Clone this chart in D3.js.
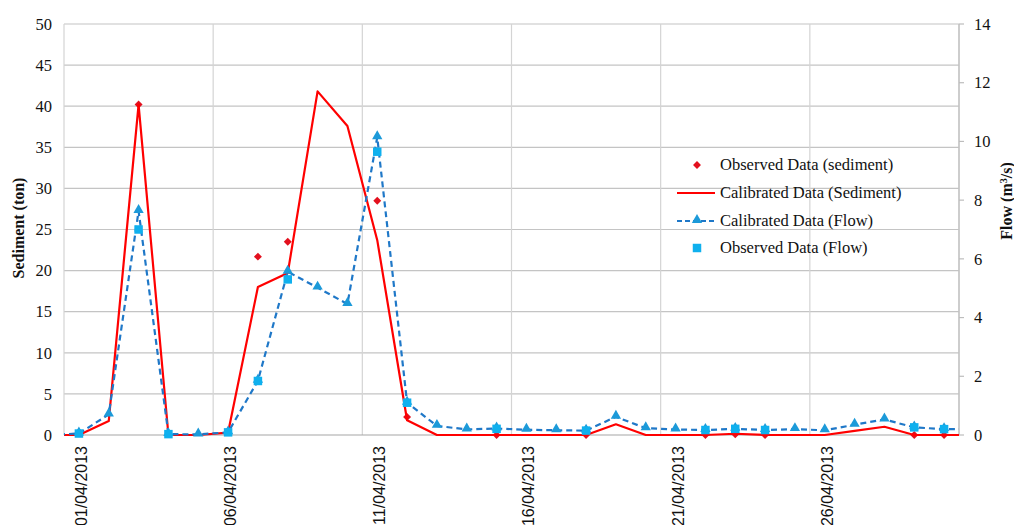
<!DOCTYPE html>
<html>
<head>
<meta charset="utf-8">
<script src="https://cdn.jsdelivr.net/npm/d3@7"></script>
<style>
  html, body { margin: 0; padding: 0; background: #fff; }
  svg { display: block; }
</style>
</head>
<body>
<svg id="chart" width="1014" height="525"></svg>
<script>
// Daily dates, 31/03/2013 .. 01/05/2013 (the two outer days run past the plot edges)
const dates = ["31/03/2013",
  "01/04/2013","02/04/2013","03/04/2013","04/04/2013","05/04/2013","06/04/2013","07/04/2013","08/04/2013","09/04/2013","10/04/2013",
  "11/04/2013","12/04/2013","13/04/2013","14/04/2013","15/04/2013","16/04/2013","17/04/2013","18/04/2013","19/04/2013","20/04/2013",
  "21/04/2013","22/04/2013","23/04/2013","24/04/2013","25/04/2013","26/04/2013","27/04/2013","28/04/2013","29/04/2013","30/04/2013",
  "01/05/2013"];

// Calibrated sediment (ton), one value per date
const calSediment = [0,
  0, 1.7, 40.2, 0, 0, 0.3, 18.0, 19.7, 41.8, 37.6,
  23.7, 1.8, 0, 0, 0, 0, 0, 0, 1.3, 0,
  0, 0, 0.15, 0, 0, 0, 0.5, 1.0, 0, 0,
  0];

// Calibrated flow (m3/s), one value per date
const calFlow = [0,
  0.05, 0.70, 7.63, 0.03, 0.02, 0.09, 1.85, 5.56, 5.02, 4.46,
  10.14, 1.10, 0.31, 0.19, 0.22, 0.18, 0.16, 0.15, 0.62, 0.23,
  0.19, 0.17, 0.21, 0.17, 0.20, 0.16, 0.35, 0.53, 0.26, 0.20,
  0.20];

// Observed sediment samples (ton)
const obsSedDates = ["03/04/2013","07/04/2013","08/04/2013","11/04/2013","12/04/2013","15/04/2013","18/04/2013",
  "22/04/2013","23/04/2013","24/04/2013","29/04/2013","30/04/2013"];
const obsSediment = [40.2, 21.7, 23.5, 28.5, 2.2, 0, 0, 0, 0.1, 0, 0, 0];

// Observed flow samples (m3/s)
const obsFlowDates = ["01/04/2013","03/04/2013","04/04/2013","06/04/2013","07/04/2013","08/04/2013","11/04/2013","12/04/2013",
  "15/04/2013","18/04/2013","22/04/2013","23/04/2013","24/04/2013","29/04/2013","30/04/2013"];
const obsFlow = [0.05, 7.0, 0.03, 0.09, 1.84, 5.30, 9.65, 1.10, 0.21, 0.15, 0.17, 0.21, 0.17, 0.26, 0.20];

// Axis ticks
const sedTicks = [0, 5, 10, 15, 20, 25, 30, 35, 40, 45, 50];
const flowTicks = [0, 2, 4, 6, 8, 10, 12, 14];
const dateTickLabels = ["01/04/2013","06/04/2013","11/04/2013","16/04/2013","21/04/2013","26/04/2013"];

const legendLabels = ["Observed Data (sediment)", "Calibrated Data (Sediment)", "Calibrated Data (Flow)", "Observed Data (Flow)"];

// ---- layout ----
const plotL = 64, plotR = 959, plotT = 24, plotB = 435;
const svg = d3.select("#chart");
const serif = "'Liberation Serif', 'Times New Roman', serif";
const sans = "'Liberation Sans', Arial, sans-serif";

const RED = "#ff0000", DIAMOND = "#e3101e", LINEBLUE = "#1f78c8", TRI = "#1c9ad9", SQUARE = "#0fb0ee";

// Date index 0 = 31/03; the axis covers 1..30, each day centred in its slot
const dayIndex = d => dates.indexOf(d);
const x = d3.scaleLinear().domain([0.5, 30.5]).range([plotL, plotR]);
const ySed = d3.scaleLinear().domain([0, 50]).range([plotB, plotT]);
const yFlow = d3.scaleLinear().domain([0, 14]).range([plotB, plotT]);

svg.append("defs").append("clipPath").attr("id", "plotClip")
  .append("rect").attr("x", plotL).attr("y", plotT - 10).attr("width", plotR - plotL).attr("height", plotB - plotT + 20);

// horizontal gridlines (sediment axis)
svg.append("g").selectAll("line").data(sedTicks.filter(t => t > 0)).join("line")
  .attr("x1", plotL).attr("x2", plotR)
  .attr("y1", d => ySed(d)).attr("y2", d => ySed(d))
  .attr("stroke", "#c4c4c4").attr("stroke-width", 1.2);

// vertical gridlines every 5 days
svg.append("g").selectAll("line").data(d3.range(0.5, 31, 5)).join("line")
  .attr("x1", d => x(d)).attr("x2", d => x(d))
  .attr("y1", plotT).attr("y2", plotB)
  .attr("stroke", "#d4d4d4").attr("stroke-width", 1.2);

// right axis line and ticks
svg.append("line").attr("x1", plotR).attr("x2", plotR).attr("y1", plotT).attr("y2", plotB)
  .attr("stroke", "#bdbdbd").attr("stroke-width", 1.2);
svg.append("g").selectAll("line").data(flowTicks).join("line")
  .attr("x1", plotR).attr("x2", plotR + 5)
  .attr("y1", d => yFlow(d)).attr("y2", d => yFlow(d))
  .attr("stroke", "#bdbdbd").attr("stroke-width", 1.2);

// bottom axis line
svg.append("line").attr("x1", plotL).attr("x2", plotR).attr("y1", plotB).attr("y2", plotB)
  .attr("stroke", "#a6a6a6").attr("stroke-width", 1.2);

// left tick labels
svg.append("g").selectAll("text").data(sedTicks).join("text")
  .attr("x", 52).attr("y", d => ySed(d)).attr("dy", "0.35em")
  .attr("text-anchor", "end").attr("font-family", serif).attr("font-size", 16.5).attr("fill", "#111")
  .text(d => d);

// right tick labels
svg.append("g").selectAll("text").data(flowTicks).join("text")
  .attr("x", 974).attr("y", d => yFlow(d)).attr("dy", "0.35em")
  .attr("text-anchor", "start").attr("font-family", serif).attr("font-size", 16.5).attr("fill", "#111")
  .text(d => d);

// date labels, rotated
svg.append("g").selectAll("text").data(dateTickLabels).join("text")
  .attr("transform", d => `translate(${x(dayIndex(d)) + 8},446) rotate(-90)`)
  .attr("text-anchor", "end").attr("font-family", sans).attr("font-size", 16).attr("fill", "#111")
  .text(d => d);

// axis titles
svg.append("text").attr("transform", "translate(24,228) rotate(-90)")
  .attr("text-anchor", "middle").attr("font-family", serif).attr("font-weight", "bold")
  .attr("font-size", 16).attr("fill", "#111").text("Sediment (ton)");
const flowTitle = svg.append("text").attr("transform", "translate(1012,201) rotate(-90)")
  .attr("text-anchor", "middle").attr("font-family", serif).attr("font-weight", "bold")
  .attr("font-size", 16).attr("fill", "#111");
flowTitle.append("tspan").text("Flow (m");
flowTitle.append("tspan").attr("baseline-shift", "super").attr("font-size", 10).text("3");
flowTitle.append("tspan").text("/s)");

const plot = svg.append("g").attr("clip-path", "url(#plotClip)");

// shape generators
const diamond = d3.symbol().type(d3.symbolDiamond2).size(40);
const triangle = d3.symbol().type(d3.symbolTriangle).size(46);
const square = d3.symbol().type(d3.symbolSquare).size(72);

// observed sediment (diamonds)
plot.append("g").selectAll("path").data(obsSedDates.map((d, i) => [d, obsSediment[i]])).join("path")
  .attr("d", diamond)
  .attr("transform", d => `translate(${x(dayIndex(d[0]))},${ySed(d[1])})`)
  .attr("fill", DIAMOND);

// calibrated sediment line
plot.append("path").datum(calSediment)
  .attr("d", d3.line().x((d, i) => x(i)).y(d => ySed(d)))
  .attr("fill", "none").attr("stroke", RED).attr("stroke-width", 2.2).attr("stroke-linejoin", "round");

// calibrated flow: dashed line with triangles
plot.append("path").datum(calFlow)
  .attr("d", d3.line().x((d, i) => x(i)).y(d => yFlow(d)))
  .attr("fill", "none").attr("stroke", LINEBLUE).attr("stroke-width", 2.2)
  .attr("stroke-dasharray", "6,4");
plot.append("g").selectAll("path").data(calFlow.map((v, i) => [i, v]).filter(d => d[0] >= 1 && d[0] <= 30)).join("path")
  .attr("d", triangle)
  .attr("transform", d => `translate(${x(d[0])},${yFlow(d[1]) - 1})`)
  .attr("fill", TRI);

// observed flow (squares)
plot.append("g").selectAll("path").data(obsFlowDates.map((d, i) => [d, obsFlow[i]])).join("path")
  .attr("d", square)
  .attr("transform", d => `translate(${x(dayIndex(d[0]))},${yFlow(d[1])})`)
  .attr("fill", SQUARE);

// legend
const lg = svg.append("g").attr("font-family", serif).attr("font-size", 16.5).attr("fill", "#111");
const rowsY = [165, 193, 221, 248];
lg.selectAll("text").data(legendLabels).join("text")
  .attr("x", 720).attr("y", (d, i) => rowsY[i]).attr("dy", "0.33em").text(d => d);
lg.append("path").attr("d", diamond).attr("transform", `translate(697,${rowsY[0]})`).attr("fill", DIAMOND);
lg.append("line").attr("x1", 677).attr("x2", 715).attr("y1", rowsY[1]).attr("y2", rowsY[1])
  .attr("stroke", RED).attr("stroke-width", 2.2);
lg.append("line").attr("x1", 677).attr("x2", 715).attr("y1", rowsY[2]).attr("y2", rowsY[2])
  .attr("stroke", LINEBLUE).attr("stroke-width", 2.2).attr("stroke-dasharray", "5,3");
lg.append("path").attr("d", triangle).attr("transform", `translate(697,${rowsY[2] - 1})`).attr("fill", TRI);
lg.append("path").attr("d", square).attr("transform", `translate(697,${rowsY[3]})`).attr("fill", SQUARE);
</script>
</body>
</html>
